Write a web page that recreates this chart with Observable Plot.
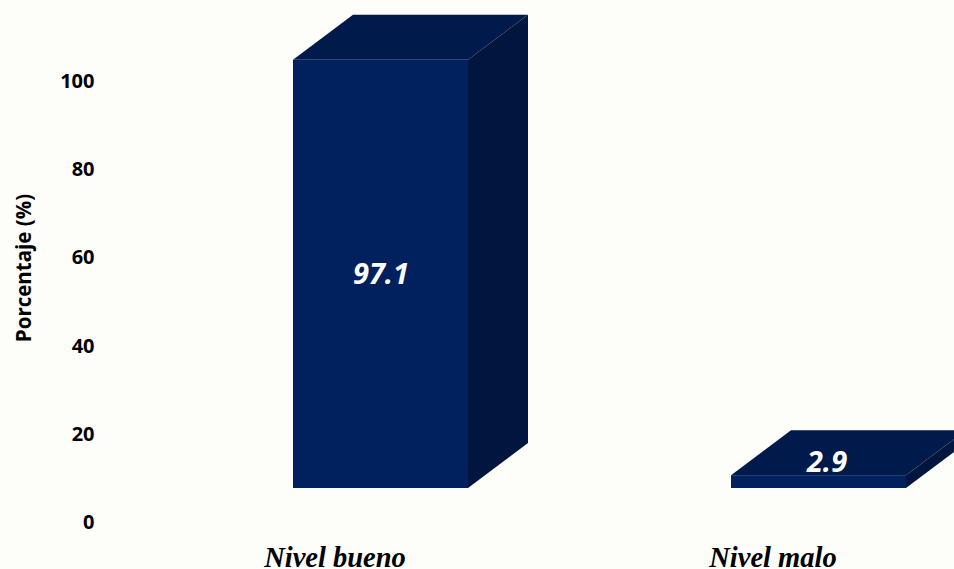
<!DOCTYPE html>
<html><head><meta charset="utf-8">
<script src="https://cdn.jsdelivr.net/npm/d3@7"></script>
<script src="https://cdn.jsdelivr.net/npm/@observablehq/plot@0.6"></script>
<style>html,body{margin:0;padding:0;background:#fdfdfa;overflow:hidden;}</style>
</head><body><div id="chart"></div>
<script>
const categories = ["Nivel bueno", "Nivel malo"];
const values = [97.1, 2.9];
const yTicks = [0, 20, 40, 60, 80, 100];
const yLabel = "Porcentaje (%)";

const data = categories.map((c, i) => ({cat: c, value: values[i]}));

const DX = 60, DY = -45;
const FRONT = "#00205e", TOP = "#001a4b", SIDE = "#00163e";

function faces(index, scales) {
  const g = d3.create("svg:g");
  const bw = scales.x.bandwidth();
  for (const i of index) {
    const d = data[i];
    const x0 = scales.x(d.cat), x1 = x0 + bw;
    const y0 = scales.y(0), yt = scales.y(d.value);
    g.append("polygon")
      .attr("points", [[x1, yt], [x1 + DX, yt + DY], [x1 + DX, y0 + DY], [x1, y0]].join(" "))
      .attr("fill", SIDE);
    g.append("polygon")
      .attr("points", [[x0, yt], [x0 + DX, yt + DY], [x1 + DX, yt + DY], [x1, yt]].join(" "))
      .attr("fill", TOP);
  }
  return g.node();
}

const chart = Plot.plot({
  width: 954,
  height: 569,
  marginLeft: 100,
  marginRight: 0,
  marginTop: 47,
  marginBottom: 81,
  style: {background: "#fdfdfa", fontFamily: "'Open Sans', sans-serif", color: "#000", overflow: "hidden"},
  x: {domain: categories, range: [293, 907], paddingInner: 0.6, paddingOuter: 0},
  y: {domain: [0, 100]},
  marks: [
    Plot.barY(data, {x: "cat", y: "value", fill: FRONT, render: faces}),
    Plot.barY(data, {x: "cat", y: "value", fill: FRONT}),
    Plot.text(data.filter(d => d.value >= 50), {
      x: "cat", y: d => d.value / 2, text: d => d.value.toFixed(1),
      fill: "white", fontSize: 29, fontWeight: "bold", fontStyle: "italic"
    }),
    Plot.text(data.filter(d => d.value < 50), {
      x: "cat", y: "value", dx: 8, dy: -13, text: d => d.value.toFixed(1),
      fill: "white", fontSize: 29, fontWeight: "bold", fontStyle: "italic"
    }),
    Plot.axisY(yTicks, {
      tickSize: 0, tickPadding: 6, dy: 34, fontSize: 20, fontWeight: "bold",
      label: null, fill: "#000"
    }),
    Plot.text([yLabel], {
      frameAnchor: "left", textAnchor: "middle", dx: -76, rotate: -90,
      fontSize: 20.5, fontWeight: "bold", fill: "#000"
    }),
    Plot.axisX({
      tickSize: 0, dx: -46, dy: 49, fontSize: 28.5, fontWeight: "bold", fontStyle: "italic",
      fontFamily: "'Liberation Serif', serif", label: null, fill: "#000"
    })
  ]
});
document.getElementById("chart").appendChild(chart);
</script>
</body></html>
